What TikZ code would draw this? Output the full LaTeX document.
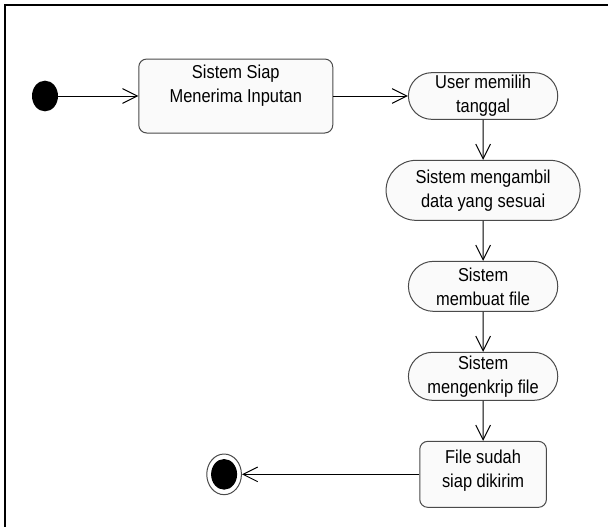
\documentclass[tikz,border=0pt]{standalone}
\usepackage{fontspec}
\setmainfont{Liberation Sans}[FakeStretch=0.88]
\usetikzlibrary{arrows.meta,positioning,shapes.geometric,shapes.misc}
\definecolor{actfill}{HTML}{FAFAFA}
\definecolor{actline}{HTML}{4A4A4A}

\begin{document}
\begin{tikzpicture}[
  x=0.75pt,y=-0.75pt,
  node distance=30pt,
  txt/.style={font=\fontsize{14}{18}\selectfont,align=center,inner sep=0pt},
  act/.style={txt,draw=actline,fill=actfill,line width=0.75pt,rounded rectangle,
              minimum width=112pt,minimum height=36pt},
  box/.style={txt,draw=actline,fill=actfill,line width=0.75pt,rounded corners=6pt,
              minimum width=95pt,minimum height=49.5pt},
  startpt/.style={ellipse,fill=black,minimum width=19.5pt,minimum height=23pt,inner sep=0pt},
  stoppt/.style={ellipse,draw=actline,line width=0.75pt,fill=white,
                 minimum width=26pt,minimum height=30.5pt,inner sep=0pt},
  ar/.style={-{Straight Barb[length=11pt,width=11pt]},line width=0.75pt},
]
\useasboundingbox (0,0) rectangle (608,526);
\draw[line width=1.6pt] (5,540) -- (5,5) -- (620,5);

\node[startpt] (init) at (45,96) {};
\node[box,right=60pt of init,minimum width=145.5pt,minimum height=55.5pt] (siap)
  {Sistem Siap\\Menerima Inputan\\\mbox{}};
\node[act,right=56pt of siap,minimum height=35pt] (pilih) {User memilih\\tanggal};
\node[act,below=of pilih,minimum width=145.5pt,minimum height=45pt] (ambil)
  {Sistem mengambil\\data yang sesuai};
\node[act,below=of ambil,minimum height=37.5pt] (buat) {Sistem\\membuat file};
\node[act,below=of buat] (enkrip) {Sistem\\mengenkrip file};
\node[box,below=of enkrip] (kirim) {File sudah\\siap dikirim\\[-9pt]\mbox{}};
\node[stoppt,left=133pt of kirim] (akhir) {};
\node[startpt] (akhirin) at (akhir) {};

\draw[ar] (init) -- (siap);
\draw[ar] (siap) -- (pilih);
\draw[ar] (pilih) -- (ambil);
\draw[ar] (ambil) -- (buat);
\draw[ar] (buat) -- (enkrip);
\draw[ar] (enkrip) -- (kirim);
\draw[ar] (kirim) -- (akhir);
\end{tikzpicture}
\end{document}
